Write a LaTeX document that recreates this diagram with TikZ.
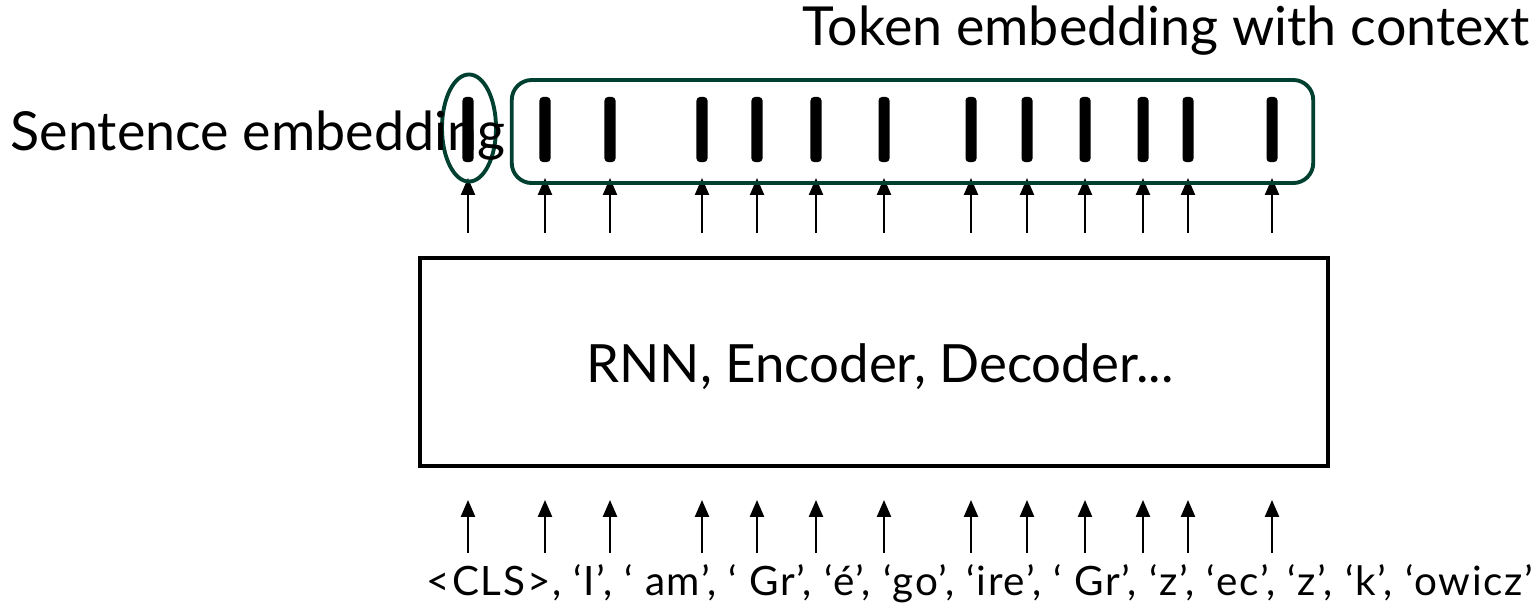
\documentclass[tikz,border=0pt]{standalone}
\usepackage{fontspec}
\setmainfont{Lato}
\usetikzlibrary{arrows.meta,positioning,shapes}

\definecolor{ctxgreen}{RGB}{0,64,48}

\begin{document}
\begin{tikzpicture}[x=0.01cm, y=-0.01cm,
    modelbox/.style={rectangle, draw=black, line width=1.2pt, minimum width=9.08cm, minimum height=2.08cm, inner sep=0pt},
    vecbar/.style={rectangle, fill=black, rounded corners=1pt, minimum width=0.11cm, minimum height=0.65cm, inner sep=0pt},
    ctxbox/.style={rectangle, draw=ctxgreen, line width=1.1pt, rounded corners=0.2cm, inner sep=0pt},
    clsring/.style={ellipse, draw=ctxgreen, line width=1.1pt, minimum width=0.54cm, minimum height=1.07cm, inner sep=0pt},
    arrow/.style={-{Triangle[width=4pt,length=4.8pt]}, line width=0.55pt},
    lbl/.style={font=\fontsize{15.3}{18}\selectfont, inner sep=0pt}]

    \useasboundingbox (0,0) rectangle (1538,608);

    % Encoder box
    \node[modelbox] (model) at (874,362) {};
    \node[font=\fontsize{15}{18}\selectfont, inner sep=0pt, anchor=base] (modeltxt) at (880,382) {RNN, Encoder, Decoder...};

    % Token columns: input arrows, output arrows, output vectors
    \foreach \x [count=\i] in {468,545,610,702,757,816,884,971,1027,1085,1143,1188,1272} {
        \coordinate (intail\i) at (\x,553);
        \coordinate (inhead\i) at (\x,500);
        \coordinate (outtail\i) at (\x,233);
        \coordinate (outhead\i) at (\x,178);
        \node[vecbar] (vec\i) at (\x,129.5) {};
        \draw[arrow] (intail\i) -- (inhead\i);
        \draw[arrow] (outtail\i) -- (outhead\i);
    }

    % Sentence embedding (CLS)
    \node[clsring] (cls) at (469,128) {};

    % Token embeddings with context
    \node[ctxbox, minimum width=8.01cm, minimum height=1.03cm] (ctx) at (912.5,131.5) {};

    % Labels
    \node[lbl, anchor=base west] (senttxt) at (10,150) {Sentence embedding};
    \node[lbl, anchor=base east] (ctxtxt) at (1530,45) {Token embedding with context};
    \node[font=\fontsize{11.5}{13}\selectfont\addfontfeature{LetterSpace=4.3}, inner sep=0pt, anchor=base] (tokens) at (980,595)
        {<CLS>, ‘I’, ‘ am’, ‘ Gr’, ‘é’, ‘go’, ‘ire’, ‘ Gr’, ‘z’, ‘ec’, ‘z’, ‘k’, ‘owicz’};

\end{tikzpicture}
\end{document}
